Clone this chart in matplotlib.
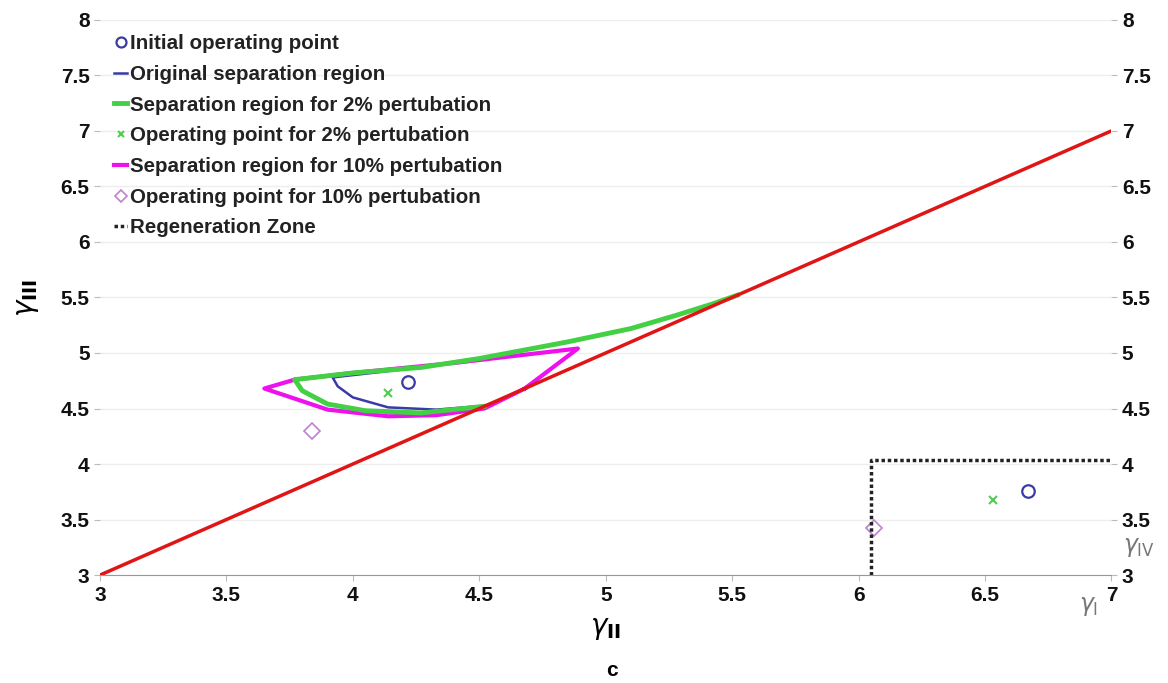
import numpy as np
import matplotlib
matplotlib.use("Agg")
from matplotlib import pyplot as plt

plt.rcParams['font.family'] = ['Liberation Sans', 'DejaVu Sans']

# diagonal boundary
diag_x = [3.0, 7.0]
diag_y = [3.0, 7.0]

# operating points (separation plane, regeneration plane)
init_x = [4.22, 6.67]
init_y = [4.74, 3.76]
op2_x = [4.14, 6.53]
op2_y = [4.64, 3.68]
op10_x = [3.84, 6.06]
op10_y = [4.30, 3.42]

# separation regions
blue_x = [4.55, 4.33, 4.14, 4.00, 3.94, 3.92, 4.27, 4.50, 4.85, 5.10, 5.28, 5.42, 5.52]
blue_y = [4.53, 4.49, 4.51, 4.60, 4.70, 4.78, 4.87, 4.95, 5.10, 5.22, 5.34, 5.44, 5.52]

green_x = [4.52, 4.27, 4.05, 3.90, 3.80, 3.77, 4.00, 4.27, 4.50, 4.85, 5.10, 5.28, 5.42, 5.52]
green_y = [4.52, 4.46, 4.48, 4.54, 4.66, 4.76, 4.82, 4.87, 4.95, 5.10, 5.22, 5.34, 5.44, 5.52]

magenta_x = [4.68, 4.89, 4.40, 4.00, 3.77, 3.65, 3.90, 4.14, 4.33, 4.52, 4.68]
magenta_y = [4.68, 5.04, 4.91, 4.82, 4.76, 4.68, 4.49, 4.43, 4.44, 4.50, 4.68]

# regeneration zone
regen_x = [6.05, 6.05, 7.0]
regen_y = [3.0, 4.04, 4.04]

ticks_x = [3, 3.5, 4, 4.5, 5, 5.5, 6, 6.5, 7]
ticks_y = [3, 3.5, 4, 4.5, 5, 5.5, 6, 6.5, 7, 7.5, 8]


def main():
    fig = plt.figure(figsize=(11.68, 6.83), dpi=100)
    ax = fig.add_axes([0.0856, 0.158, 0.866, 0.813])

    ax.plot(init_x, init_y, 'o', ls='none', mfc='none', mec='#3a3aa8', ms=9, mew=1.6,
            label='Initial operating point')
    ax.plot(blue_x, blue_y, color='#3a3aa8', lw=1.8, label='Original separation region')
    ax.plot(green_x, green_y, color='#44d044', lw=3.5, zorder=2.5,
            label='Separation region for 2% pertubation')
    ax.plot(op2_x, op2_y, 'x', ls='none', color='#55cc55', ms=6, mew=1.5,
            label='Operating point for 2% pertubation')
    ax.plot(magenta_x, magenta_y, color='#ee11ee', lw=3, zorder=2.2,
            label='Separation region for 10% pertubation')
    ax.plot(op10_x, op10_y, 'D', ls='none', mfc='none', mec='#c080d0', ms=8, mew=1.2,
            label='Operating point for 10% pertubation')
    ax.plot(regen_x, regen_y, color='#222222', lw=2.5, ls=(0, (1, 0.8)),
            label='Regeneration Zone')

    ax.plot(diag_x, diag_y, color='#e01515', lw=2.5, zorder=3)

    ax.set_xlim(3, 7)
    ax.set_ylim(3, 8)
    ax.set_xticks(ticks_x)
    ax.set_xticklabels([f'{t:g}' for t in ticks_x])
    ax.set_yticks(ticks_y)
    ax.set_yticklabels([f'{t:g}' for t in ticks_y])
    ax.tick_params(axis='both', labelsize=15, colors='#bbbbbb', labelcolor='#111111',
                   length=4, width=0.8)
    ax.tick_params(axis='y', right=True, labelright=True)
    for lab in ax.get_xticklabels() + ax.get_yticklabels():
        lab.set_fontweight('bold')
    for lab in ax.get_yticklabels(which='both'):
        lab.set_fontweight('bold')

    for s in ['left', 'right', 'top']:
        ax.spines[s].set_visible(False)
    ax.spines['bottom'].set_color('#999999')
    ax.grid(axis='y', color='#eeeeee', lw=1)
    ax.set_axisbelow(True)

    ax.set_xlabel(r'$\gamma_{\mathbf{II}}$', fontsize=20, labelpad=8)
    ax.set_ylabel(r'$\gamma_{\mathbf{III}}$', fontsize=20, labelpad=14)
    ax.text(6.91, 2.72, r'$\gamma_{\mathrm{I}}$', fontsize=17, color='#777777',
            ha='center', va='center')
    ax.text(7.11, 3.25, r'$\gamma_{\mathrm{IV}}$', fontsize=17, color='#777777',
            ha='center', va='center', clip_on=False)
    fig.text(0.524, 0.01, 'c', fontsize=15, fontweight='bold', ha='center')

    leg = ax.legend(loc='upper left', bbox_to_anchor=(0.0, 1.0), frameon=False,
                    handlelength=0.6, handletextpad=0.15, labelspacing=0.57,
                    borderaxespad=0.0, borderpad=0.7, markerscale=0.8,
                    prop={'size': 14.8, 'weight': 'bold'})
    for t in leg.get_texts():
        t.set_color('#222222')

    plt.savefig('out.png', dpi=100)


if __name__ == "__main__":
    main()
